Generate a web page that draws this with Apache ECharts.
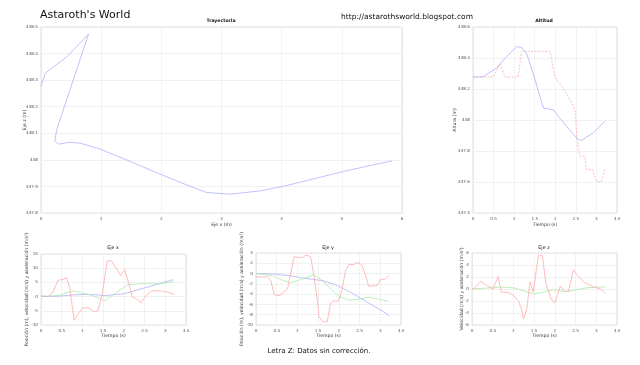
<!DOCTYPE html>
<html><head><meta charset="utf-8">
<script src="https://cdn.jsdelivr.net/npm/echarts@6/dist/echarts.min.js"></script>
<style>html,body{margin:0;padding:0;background:#fff}#c{width:640px;height:365px}</style>
</head><body><div id="c"></div>
<script>
// Trayectoria (x vs z)
var trajX = [0, 0.07, 0.43, 0.79, 0.37, 0.26, 0.23, 0.29, 0.46, 0.65, 0.98, 1.42, 1.97, 2.42, 2.75, 3.14, 3.64, 4.02, 4.47, 5.02, 5.58, 5.84];
var trajZ = [448.276, 448.326, 448.388, 448.473, 448.188, 448.113, 448.071, 448.059, 448.066, 448.063, 448.041, 448.0, 447.947, 447.906, 447.877, 447.871, 447.883, 447.9, 447.925, 447.956, 447.984, 447.996];
// Altitud
var altBlueT = [0, 0.25, 0.57, 0.82, 1.06, 1.18, 1.3, 1.46, 1.71, 1.95, 2.27, 2.56, 2.64, 2.92, 3.2];
var altBlueV = [448.277, 448.28, 448.335, 448.41, 448.473, 448.468, 448.432, 448.303, 448.077, 448.066, 447.96, 447.873, 447.869, 447.916, 447.991];
var altRedT = [0, 0.49, 0.655, 0.78, 1.1, 1.18, 1.87, 1.99, 2.19, 2.4, 2.48, 2.53, 2.6, 2.72, 2.76, 2.9, 3.0, 3.12, 3.2];
var altRedV = [448.277, 448.277, 448.363, 448.277, 448.277, 448.443, 448.443, 448.28, 448.206, 448.11, 448.066, 447.873, 447.766, 447.766, 447.68, 447.68, 447.604, 447.604, 447.68];
// Eje x
var exBlueT = [0, 0.45, 0.89, 1.1, 1.38, 1.54, 2.02, 2.58, 3.2];
var exBlueV = [0, 0.2, 0.7, 0.75, 0.6, 0.35, 1.06, 3.4, 6.0];
var exGreenT = [0, 0.41, 0.77, 0.97, 1.22, 1.54, 1.78, 2.1, 2.42, 2.83, 3.2];
var exGreenV = [0, 0.35, 2.0, 1.3, 0.5, -1.5, 1.06, 4.2, 4.6, 4.5, 5.2];
var exRedT = [0, 0.17, 0.29, 0.41, 0.53, 0.61, 0.69, 0.8, 0.89, 1.01, 1.14, 1.3, 1.38, 1.48, 1.6, 1.7, 1.82, 1.92, 2.02, 2.12, 2.2, 2.3, 2.41, 2.54, 2.67, 2.91, 3.07, 3.2];
var exRedV = [0.35, 0, 1.6, 5.75, 6.0, 6.7, 3.4, -8.3, -6.2, -3.9, -4.0, -5.4, -4.8, 1.06, 12.6, 12.6, 9.9, 7.4, 9.5, 4.6, -0.1, -0.7, -2.2, 0.5, 2.0, 2.0, 1.5, 0.8];
// Eje y
var eyBlueT = [0, 0.4, 0.8, 1.12, 1.6, 1.92, 2.32, 2.72, 3.04, 3.22];
var eyBlueV = [0, -0.07, -0.4, -0.85, -1.37, -2.16, -3.8, -5.75, -7.25, -8.2];
var eyGreenT = [0, 0.4, 0.64, 0.84, 1.12, 1.4, 1.6, 1.8, 2.0, 2.24, 2.48, 2.72, 2.96, 3.2];
var eyGreenV = [0, -0.4, -1.3, -1.83, -1.05, -0.26, -1.3, -3.0, -4.4, -5.2, -5.0, -4.6, -5.0, -5.4];
var eyRedT = [0, 0.28, 0.36, 0.44, 0.56, 0.68, 0.76, 0.84, 0.92, 1.12, 1.21, 1.32, 1.4, 1.48, 1.52, 1.61, 1.72, 1.8, 1.88, 1.98, 2.06, 2.16, 2.24, 2.36, 2.46, 2.56, 2.64, 2.72, 2.84, 2.92, 3.0, 3.12, 3.2];
var eyRedV = [-0.65, -0.65, -1.5, -4.1, -4.3, -3.5, -3.0, 0.13, 3.27, 3.1, 3.6, 3.27, -0.5, -5.1, -8.4, -9.35, -9.35, -5.75, -5.3, -5.4, -3.8, 0.46, 1.76, 1.76, 2.2, 1.57, -0.2, -2.5, -2.35, -2.35, -1.2, -1.05, -0.4];
// Eje z
var ezGreenT = [0, 0.39, 0.71, 1.04, 1.28, 1.48, 1.72, 1.97, 2.25, 2.49, 2.73, 2.98, 3.22];
var ezGreenV = [0, 0.17, 0.33, 0.17, -0.4, -0.83, -0.55, -0.1, -0.44, -0.2, 0.17, 0.33, 0.33];
var ezRedT = [0, 0.06, 0.21, 0.35, 0.51, 0.63, 0.71, 0.87, 1.0, 1.12, 1.2, 1.24, 1.32, 1.4, 1.48, 1.6, 1.7, 1.78, 1.91, 2.0, 2.13, 2.25, 2.33, 2.45, 2.57, 2.73, 2.94, 3.1, 3.22];
var ezRedV = [0.1, 0.1, 1.28, 0.6, 0, 2.1, -0.55, -0.55, -1.05, -1.9, -3.45, -5.0, -3.45, 1.17, -0.55, 5.55, 5.55, 1.0, -1.67, -2.33, 0.44, -0.4, -0.4, 3.2, 2.1, 1.0, 0.33, 0, -0.67];

var FONT = 'DejaVu Sans';
var BLUE = '#a9aefa', GREEN = '#a6eaa6', RED = '#ffa6a6';
function zip(a, b) { return a.map(function (v, i) { return [v, b[i]]; }); }
function fmt(v) { return String(+v.toFixed(1)); }

var grids = [
  { left: 41, top: 27, width: 361, height: 186 },
  { left: 473, top: 27, width: 144, height: 186 },
  { left: 41, top: 254, width: 145, height: 71 },
  { left: 256, top: 253, width: 145, height: 72 },
  { left: 472, top: 253, width: 145, height: 72 }
].map(function (g) {
  return Object.assign({ show: true, borderColor: '#d8d8d8', borderWidth: 0.8, backgroundColor: '#fff' }, g);
});

function ax(gi, min, max, interval, name, isY, gap) {
  return {
    type: 'value', gridIndex: gi, min: min, max: max, interval: interval,
    name: name, nameLocation: 'middle', nameGap: gap, nameMoveOverlap: false,
    nameTextStyle: { fontFamily: FONT, fontSize: 4.6, color: '#333' },
    axisLine: { show: false }, axisTick: { show: false },
    axisLabel: { fontFamily: FONT, fontSize: 4.2, color: '#555', margin: isY ? 3 : 4, formatter: fmt },
    splitLine: { show: true, lineStyle: { color: isY ? '#ededed' : '#e0e0e0', width: 0.8, type: isY ? 'solid' : 'dotted' } }
  };
}

var xAxes = [
  ax(0, 0, 6, 1, 'Eje x (m)', false, 9),
  ax(1, 0, 3.5, 0.5, 'Tiempo (s)', false, 9),
  ax(2, 0, 3.5, 0.5, 'Tiempo (s)', false, 8),
  ax(3, 0, 3.5, 0.5, 'Tiempo (s)', false, 8),
  ax(4, 0, 3.5, 0.5, 'Tiempo (s)', false, 8)
];
var yAxes = [
  ax(0, 447.8, 448.5, 0.1, 'Eje z (m)', true, 14),
  ax(1, 447.4, 448.6, 0.2, 'Altura (m)', true, 16),
  ax(2, -10, 15, 5, 'Posición (m), velocidad (m/s) y aceleración (m/s²)', true, 12),
  ax(3, -10, 4, 2, 'Posición (m), velocidad (m/s) y aceleración (m/s²)', true, 12),
  ax(4, -6, 6, 2, 'Velocidad (m/s) y aceleración (m/s²)', true, 8)
];

function line(idx, data, color, dashed) {
  return {
    type: 'line', xAxisIndex: idx, yAxisIndex: idx, data: data, symbol: 'none',
    silent: true, animation: false,
    lineStyle: { color: color, width: 0.75, type: dashed ? [2, 1.5] : 'solid' }
  };
}

var series = [
  line(0, zip(trajX, trajZ), BLUE),
  line(1, zip(altRedT, altRedV), RED, true),
  line(1, zip(altBlueT, altBlueV), BLUE),
  line(2, zip(exBlueT, exBlueV), BLUE),
  line(2, zip(exGreenT, exGreenV), GREEN),
  line(2, zip(exRedT, exRedV), RED),
  line(3, zip(eyBlueT, eyBlueV), BLUE),
  line(3, zip(eyGreenT, eyGreenV), GREEN),
  line(3, zip(eyRedT, eyRedV), RED),
  line(4, zip(ezGreenT, ezGreenV), GREEN),
  line(4, zip(ezRedT, ezRedV), RED)
];

function ttl(text, left, top, size, bold, align) {
  return { text: text, left: left, top: top, textAlign: align || 'center', padding: 0,
    textStyle: { fontFamily: FONT, fontSize: size, fontWeight: bold ? 'bold' : 'normal', color: '#111' } };
}

var chart = echarts.init(document.getElementById('c'), null, { renderer: 'canvas' });
chart.setOption({
  animation: false,
  backgroundColor: '#fff',
  title: [
    ttl("Astaroth's World", 40, 10, 11, false, 'left'),
    ttl('http://astarothsworld.blogspot.com', 341, 13, 7.5, false, 'left'),
    ttl('Trayectoria', 221, 18, 4.6, true),
    ttl('Altitud', 544, 18, 4.6, true),
    ttl('Eje x', 113, 245, 4.8, false),
    ttl('Eje y', 328, 245, 4.8, false),
    ttl('Eje z', 544, 245, 4.8, false),
    ttl('Letra Z: Datos sin corrección.', 319, 348, 7, false)
  ],
  grid: grids,
  xAxis: xAxes,
  yAxis: yAxes,
  series: series
});
</script></body></html>
